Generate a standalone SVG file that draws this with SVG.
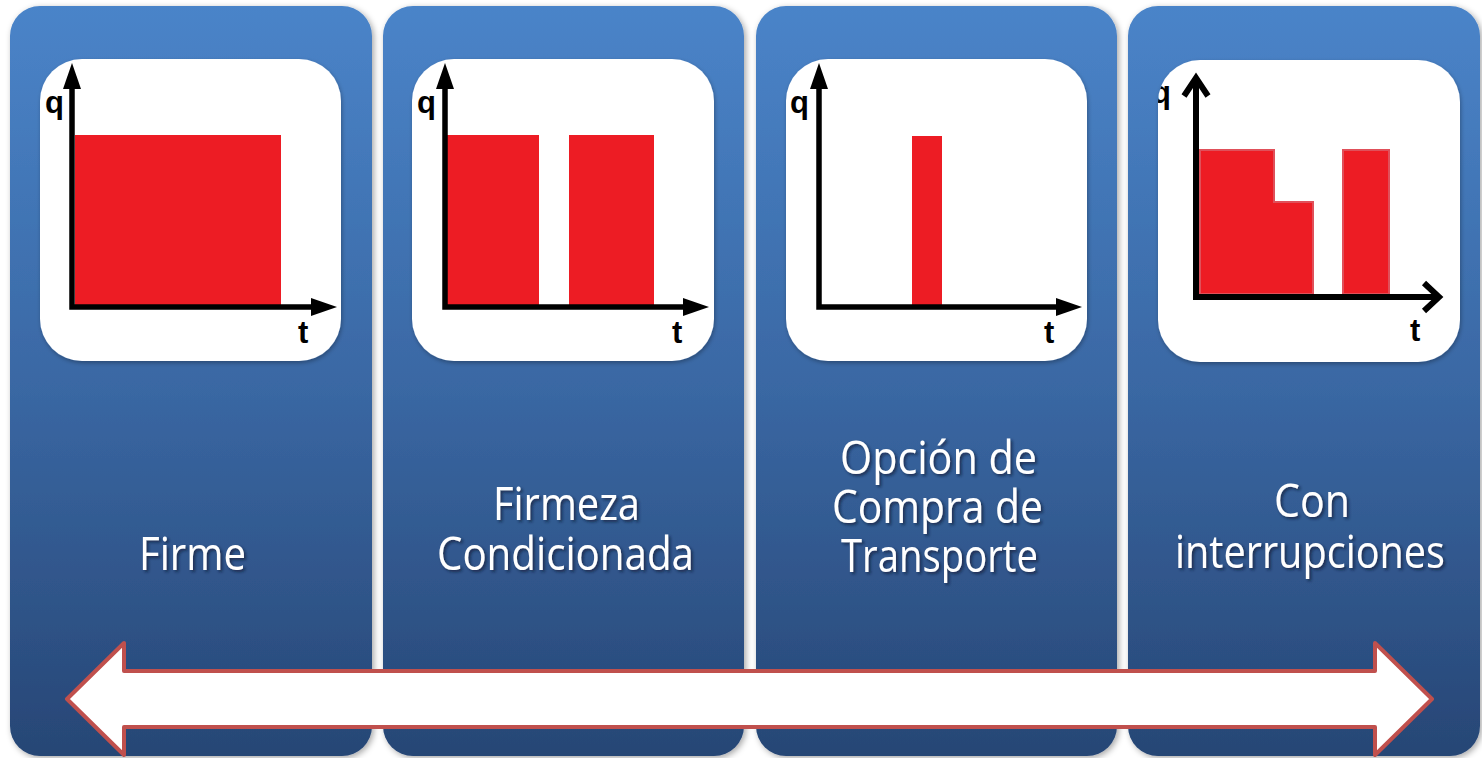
<svg xmlns="http://www.w3.org/2000/svg" width="1482" height="758" viewBox="0 0 1482 758">
<defs>
  <linearGradient id="panelGrad" x1="0" y1="0" x2="0" y2="1">
    <stop offset="0" stop-color="#4A84C9"/>
    <stop offset="0.5" stop-color="#3A68A4"/>
    <stop offset="1" stop-color="#274675"/>
  </linearGradient>
  <filter id="panelShadow" x="-5%" y="-5%" width="115%" height="115%">
    <feDropShadow dx="2" dy="2" stdDeviation="3" flood-color="#000" flood-opacity="0.35"/>
  </filter>
  <filter id="boxShadow" x="-5%" y="-5%" width="115%" height="115%">
    <feDropShadow dx="1" dy="2" stdDeviation="2" flood-color="#000" flood-opacity="0.3"/>
  </filter>
  <filter id="textShadow" x="-20%" y="-30%" width="140%" height="170%">
    <feDropShadow dx="2" dy="2" stdDeviation="1.5" flood-color="#0a1a33" flood-opacity="0.7"/>
  </filter>
  <marker id="head" markerUnits="userSpaceOnUse" markerWidth="30" markerHeight="22" refX="1" refY="11" orient="auto-start-reverse" overflow="visible">
    <path d="M0,2 L26,11 L0,20 Z" fill="#000"/>
  </marker>
  <clipPath id="clip4"><rect x="1158" y="60" width="302" height="302" rx="42"/></clipPath>
  <style>
    .panel{fill:url(#panelGrad);filter:url(#panelShadow);}
    .box{fill:#fff;filter:url(#boxShadow);}
    .bar{fill:#ED1C24;}
    .bar4{fill:#ED1C24;stroke:#E0505A;stroke-width:2;}
    .axis{fill:none;stroke:#000;stroke-width:5.5;stroke-linejoin:miter;marker-start:url(#head);marker-end:url(#head);}
    .axis4{fill:none;stroke:#000;stroke-width:6;stroke-linejoin:miter;}
    .ax{font-family:"Liberation Sans",Arial,sans-serif;font-weight:bold;font-size:31px;fill:#000;}
    .lbl{font-family:"Open Sans","Noto Sans",sans-serif;font-size:46px;fill:#fff;filter:url(#textShadow);}
  </style>
</defs>
<rect width="1482" height="758" fill="#fff"/>

<g id="panel-firme">
  <rect class="panel" x="10" y="6" width="362" height="750" rx="30"/>
  <rect class="box" x="40" y="59" width="301" height="302" rx="42"/>
  <rect class="bar" x="75" y="135" width="206" height="172"/>
  <path class="axis" d="M72,88 L72,307 L312,307"/>
  <text class="ax" x="45" y="113">q</text>
  <text class="ax" x="298" y="343">t</text>
  <text class="lbl" x="139" y="570" textLength="107" lengthAdjust="spacingAndGlyphs">Firme</text>
</g>

<g id="panel-firmeza">
  <rect class="panel" x="383" y="6" width="361" height="750" rx="30"/>
  <rect class="box" x="412" y="59" width="302" height="302" rx="42"/>
  <rect class="bar" x="447" y="135" width="92" height="172"/>
  <rect class="bar" x="569" y="135" width="85" height="172"/>
  <path class="axis" d="M445,88 L445,307 L684,307"/>
  <text class="ax" x="417" y="113">q</text>
  <text class="ax" x="672" y="343">t</text>
  <text class="lbl" x="493" y="520" textLength="147" lengthAdjust="spacingAndGlyphs">Firmeza</text>
  <text class="lbl" x="437" y="570" textLength="257" lengthAdjust="spacingAndGlyphs">Condicionada</text>
</g>

<g id="panel-opcion">
  <rect class="panel" x="756" y="6" width="361" height="750" rx="30"/>
  <rect class="box" x="786" y="59" width="301" height="302" rx="42"/>
  <rect class="bar" x="912" y="136" width="30" height="171"/>
  <path class="axis" d="M819,88 L819,307 L1057,307"/>
  <text class="ax" x="790" y="113">q</text>
  <text class="ax" x="1044" y="343">t</text>
  <text class="lbl" x="840" y="474" textLength="197" lengthAdjust="spacingAndGlyphs">Opción de</text>
  <text class="lbl" x="832" y="523" textLength="211" lengthAdjust="spacingAndGlyphs">Compra de</text>
  <text class="lbl" x="841" y="572" textLength="197" lengthAdjust="spacingAndGlyphs">Transporte</text>
</g>

<g id="panel-interrupciones">
  <rect class="panel" x="1128" y="6" width="352" height="750" rx="30"/>
  <rect class="box" x="1158" y="60" width="302" height="302" rx="42"/>
  <path class="bar4" d="M1200,150 L1274,150 L1274,202 L1313,202 L1313,294 L1200,294 Z"/>
  <rect class="bar4" x="1343" y="150" width="46" height="144"/>
  <path class="axis4" d="M1196,78 L1196,297 L1438,297"/>
  <path class="axis4" d="M1184,96 L1196,78 L1208,96"/>
  <path class="axis4" d="M1424,283 L1439,297 L1424,311"/>
  <g clip-path="url(#clip4)"><text class="ax" x="1152" y="103">q</text></g>
  <text class="ax" x="1410" y="341">t</text>
  <text class="lbl" x="1274" y="517" textLength="76" lengthAdjust="spacingAndGlyphs">Con</text>
  <text class="lbl" x="1175" y="568" textLength="270" lengthAdjust="spacingAndGlyphs">interrupciones</text>
</g>

<g id="connectors">
  <path d="M67,699 L124,643 L124,671 L1375,671 L1375,643 L1432,699 L1375,755 L1375,727 L124,727 L124,755 Z" fill="#fff" stroke="#C0504D" stroke-width="4" stroke-linejoin="round"/>
</g>
</svg>
